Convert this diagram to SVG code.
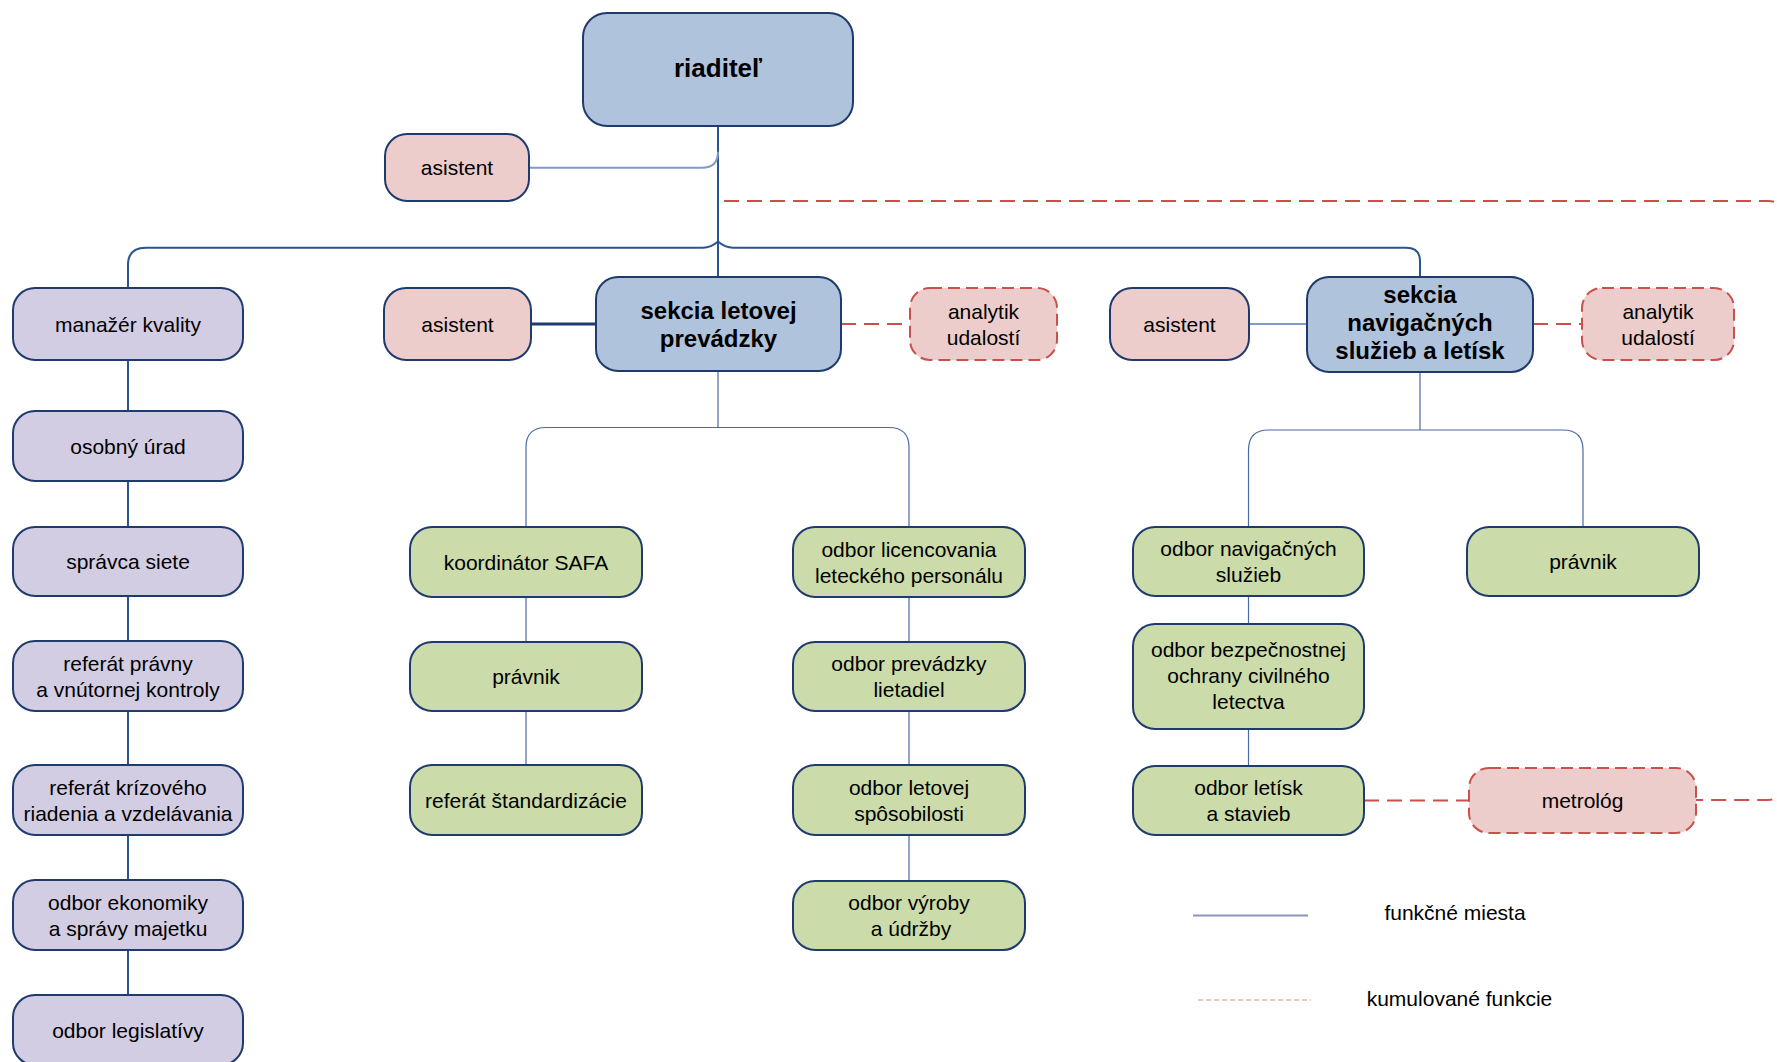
<svg xmlns="http://www.w3.org/2000/svg" width="1777" height="1062" viewBox="0 0 1777 1062">
<style>
text{font-family:"Liberation Sans",Arial,sans-serif;font-size:21px;fill:#000;text-anchor:middle}
.b{font-weight:bold;font-size:24px}
.big{font-weight:bold;font-size:26px}
rect{stroke:#1f3b6e;stroke-width:2}
.dir{fill:#b0c3dd}
.pur{fill:#d3cde3}
.pink{fill:#edcdcb}
.green{fill:#cbdba9}
.dsh{stroke:#c9504b;stroke-dasharray:12 6}
.c{fill:none}
.main{stroke:#2c5391;stroke-width:2}
.thin{stroke:#4a6aa5;stroke-width:1.2}
.light{stroke:#7f9bc6;stroke-width:2}
.thick{stroke:#1f3b6e;stroke-width:3}
.red{stroke:#c9504b;stroke-width:2;stroke-dasharray:15 8}
</style>
<g id="connectors" class="c">
<path class="main" d="M718 126 V277"/>
<path class="light" d="M529 167.7 H702 Q718 167.7 718 151.7"/>
<path class="main" d="M718 241.5 Q711 247.7 703 247.7 H146 Q128 247.7 128 265 V288"/>
<path class="main" d="M718 241.5 Q725 247.7 733 247.7 H1406 Q1420 247.7 1420 261 V277"/>
<path class="main" d="M128 360 V411 M128 481 V527 M128 596 V641 M128 711 V765 M128 835 V880 M128 950 V995"/>
<path class="thick" d="M531 324 H596"/>
<path class="red" d="M841 324 H910"/>
<path class="light" d="M1249 324 H1307"/>
<path class="red" d="M1533 324 H1582"/>
<path class="red" d="M724 201 H1768 Q1782 201 1782 215 V786 Q1782 800 1768 800 H1696"/>
<path class="red" d="M1364 800.5 H1469"/>
<path class="thin" d="M718 371 V427.5 M526 527 V447.5 Q526 427.5 546 427.5 H889 Q909 427.5 909 447.5 V527"/>
<path class="thin" d="M526 597 V642 M526 711 V765 M909 597 V642 M909 711 V765 M909 835 V881"/>
<path class="thin" d="M1420 372 V430 M1248.5 527 V450 Q1248.5 430 1268.5 430 H1563 Q1583 430 1583 450 V527"/>
<path class="thin" d="M1248.5 596 V624 M1248.5 729 V766"/>
</g>
<g id="n-riaditel"><rect class="dir" x="583" y="13" width="270" height="113" rx="24"/><text class="big" x="718" y="77">riaditeľ</text></g>
<g id="n-asistent1"><rect class="pink" x="385" y="134" width="144" height="67" rx="22"/><text x="457" y="175">asistent</text></g>
<g id="n-sekcia-letovej"><rect class="dir" x="596" y="277" width="245" height="94" rx="22"/><text class="b" x="718.5" y="318.5">sekcia letovej</text><text class="b" x="718.5" y="346.5">prevádzky</text></g>
<g id="n-asistent2"><rect class="pink" x="384" y="288" width="147" height="72" rx="22"/><text x="457.5" y="331.5">asistent</text></g>
<g id="n-analytik1"><rect class="pink dsh" x="910" y="288" width="147" height="72" rx="20"/><text x="983.5" y="318.5">analytik</text><text x="983.5" y="344.5">udalostí</text></g>
<g id="n-asistent3"><rect class="pink" x="1110" y="288" width="139" height="72" rx="22"/><text x="1179.5" y="331.5">asistent</text></g>
<g id="n-sekcia-navig"><rect class="dir" x="1307" y="277" width="226" height="95" rx="22"/><text class="b" x="1420" y="303">sekcia</text><text class="b" x="1420" y="331">navigačných</text><text class="b" x="1420" y="359">služieb a letísk</text></g>
<g id="n-analytik2"><rect class="pink dsh" x="1582" y="288" width="152" height="72" rx="20"/><text x="1658" y="318.5">analytik</text><text x="1658" y="344.5">udalostí</text></g>
<g id="n-manazer"><rect class="pur" x="13" y="288" width="230" height="72" rx="22"/><text x="128" y="331.5">manažér kvality</text></g>
<g id="n-osobny"><rect class="pur" x="13" y="411" width="230" height="70" rx="22"/><text x="128" y="453.5">osobný úrad</text></g>
<g id="n-spravca"><rect class="pur" x="13" y="527" width="230" height="69" rx="22"/><text x="128" y="569">správca siete</text></g>
<g id="n-ref-pravny"><rect class="pur" x="13" y="641" width="230" height="70" rx="22"/><text x="128" y="670.5">referát právny</text><text x="128" y="696.5">a vnútornej kontroly</text></g>
<g id="n-ref-krizoveho"><rect class="pur" x="13" y="765" width="230" height="70" rx="22"/><text x="128" y="794.5">referát krízového</text><text x="128" y="820.5">riadenia a vzdelávania</text></g>
<g id="n-ekonomiky"><rect class="pur" x="13" y="880" width="230" height="70" rx="22"/><text x="128" y="909.5">odbor ekonomiky</text><text x="128" y="935.5">a správy majetku</text></g>
<g id="n-legislativy"><rect class="pur" x="13" y="995" width="230" height="70" rx="22"/><text x="128" y="1037.5">odbor legislatívy</text></g>
<g id="n-safa"><rect class="green" x="410" y="527" width="232" height="70" rx="22"/><text x="526" y="569.5">koordinátor SAFA</text></g>
<g id="n-pravnik1"><rect class="green" x="410" y="642" width="232" height="69" rx="22"/><text x="526" y="684">právnik</text></g>
<g id="n-standard"><rect class="green" x="410" y="765" width="232" height="70" rx="22"/><text x="526" y="807.5">referát štandardizácie</text></g>
<g id="n-licenc"><rect class="green" x="793" y="527" width="232" height="70" rx="22"/><text x="909" y="556.5">odbor licencovania</text><text x="909" y="582.5">leteckého personálu</text></g>
<g id="n-prevadzky"><rect class="green" x="793" y="642" width="232" height="69" rx="22"/><text x="909" y="671">odbor prevádzky</text><text x="909" y="697">lietadiel</text></g>
<g id="n-spos"><rect class="green" x="793" y="765" width="232" height="70" rx="22"/><text x="909" y="794.5">odbor letovej</text><text x="909" y="820.5">spôsobilosti</text></g>
<g id="n-vyroby"><rect class="green" x="793" y="881" width="232" height="69" rx="22"/><text x="909" y="910">odbor výroby</text><text x="911" y="936">a údržby</text></g>
<g id="n-navig"><rect class="green" x="1133" y="527" width="231" height="69" rx="22"/><text x="1248.5" y="556">odbor navigačných</text><text x="1248.5" y="582">služieb</text></g>
<g id="n-pravnik2"><rect class="green" x="1467" y="527" width="232" height="69" rx="22"/><text x="1583" y="569">právnik</text></g>
<g id="n-bezp"><rect class="green" x="1133" y="624" width="231" height="105" rx="22"/><text x="1248.5" y="657">odbor bezpečnostnej</text><text x="1248.5" y="683">ochrany civilného</text><text x="1248.5" y="709">letectva</text></g>
<g id="n-letisk"><rect class="green" x="1133" y="766" width="231" height="69" rx="22"/><text x="1248.5" y="795">odbor letísk</text><text x="1248.5" y="821">a stavieb</text></g>
<g id="n-metrolog"><rect class="pink dsh" x="1469" y="768" width="227" height="65" rx="20"/><text x="1582.5" y="808">metrológ</text></g>
<g id="legend">
<line x1="1193" y1="915.5" x2="1308" y2="915.5" stroke="#8497b8" stroke-width="2"/>
<text x="1455" y="920">funkčné miesta</text>
<line x1="1198" y1="1000" x2="1311" y2="1000" stroke="#e08a87" stroke-width="1.2" stroke-dasharray="5 3"/>
<text x="1459.5" y="1006">kumulované funkcie</text>
</g>
</svg>
